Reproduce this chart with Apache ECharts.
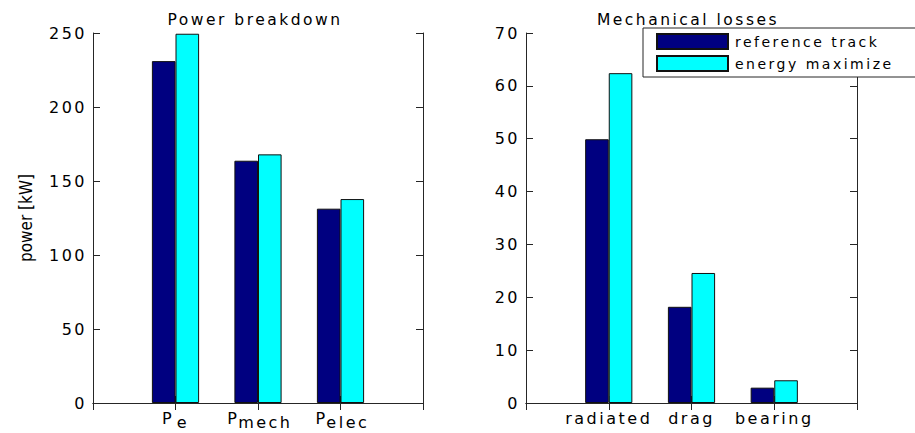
<!DOCTYPE html>
<html>
<head>
<meta charset="utf-8">
<script src="https://cdn.jsdelivr.net/npm/echarts@6/dist/echarts.min.js"></script>
<style>
  html, body { margin: 0; padding: 0; background: #fff; }
  #chart { width: 915px; height: 433px; }
  #chart text { letter-spacing: 2.5px; }
  #chart text.plain { letter-spacing: 0px; }
</style>
</head>
<body>
<div id="chart"></div>
<script>
// Power breakdown (kW)
const powerCategories = ['Pe', 'Pmech', 'Pelec'];
const powerReference = [231, 163.7, 131.3];
const powerEnergyMax = [249.5, 168, 137.8];
const powerTicks = [0, 50, 100, 150, 200, 250];

// Mechanical losses (kW)
const lossCategories = ['radiated', 'drag', 'bearing'];
const lossReference = [49.9, 18.2, 2.9];
const lossEnergyMax = [62.4, 24.6, 4.3];
const lossTicks = [0, 10, 20, 30, 40, 50, 60, 70];

const seriesNames = ['reference track', 'energy maximize'];
const seriesColors = ['#000080', '#00ffff'];
const yAxisName = 'power [kW]';

const FONT = 'DejaVu Sans';
const NARROW = '"Liberation Sans Narrow", "DejaVu Sans Condensed", "DejaVu Sans"';
const LINE = '#262626';

// x runs from 0 to 4 with the three groups at 1, 2, 3
const padCats = cats => ['start', ...cats, 'end'];
const padVals = vals => ['-', ...vals, '-'];

function catAxis(gridIndex, cats, position, subscript) {
  return {
    type: 'category', gridIndex, position,
    data: padCats(cats),
    boundaryGap: false,
    axisLine: { show: true, lineStyle: { color: LINE, width: 1 } },
    axisTick: { show: true, inside: true, length: 7, lineStyle: { color: LINE } },
    splitLine: { show: false },
    axisLabel: position === 'top' ? { show: false } : {
      show: true, margin: 7, color: '#000', fontFamily: FONT, fontSize: 16,
      interval: 0,
      formatter: (v, i) => {
        if (i === 0 || i === cats.length + 1) return '';
        return subscript ? '{p|' + v[0] + '}{s|' + v.slice(1) + '}' : v;
      },
      rich: {
        p: { fontFamily: FONT, fontSize: 16, color: '#000', padding: [0, 0, 4, 0] },
        s: { fontFamily: FONT, fontSize: 16, color: '#000', padding: [4, 0, 0, 5] }
      }
    }
  };
}

function valAxis(gridIndex, ticks, position, name) {
  const ax = {
    type: 'value', gridIndex, position,
    min: ticks[0], max: ticks[ticks.length - 1], interval: ticks[1] - ticks[0],
    axisLine: { show: true, lineStyle: { color: LINE, width: 1 } },
    axisTick: { show: true, inside: true, length: 7, lineStyle: { color: LINE } },
    splitLine: { show: false },
    axisLabel: position === 'right' ? { show: false } : {
      show: true, margin: 6, color: '#000', fontFamily: FONT, fontSize: 16
    }
  };
  if (name) {
    Object.assign(ax, {
      name, nameLocation: 'middle', nameRotate: 90, nameGap: 59,
      nameTextStyle: { color: '#000', fontFamily: NARROW, fontSize: 17 }
    });
  }
  return ax;
}

function barSeries(k, xIdx, yIdx, vals) {
  return {
    type: 'bar', name: seriesNames[k], xAxisIndex: xIdx, yAxisIndex: yIdx,
    data: padVals(vals), barWidth: 23.6, barGap: '0%',
    itemStyle: { color: seriesColors[k], borderColor: '#111', borderWidth: 1, borderRadius: 0 },
    emphasis: { disabled: true }
  };
}

// the rotated axis name keeps its natural letter spacing
function plainAxisName() {
  document.querySelectorAll('#chart text').forEach(t => {
    if (t.textContent.trim() === yAxisName) t.classList.add('plain');
  });
}

const chart = echarts.init(document.getElementById('chart'), null, { renderer: 'svg' });
chart.on('finished', plainAxisName);
chart.setOption({
  backgroundColor: '#fff',
  animation: false,
  textStyle: { fontFamily: FONT },
  title: [
    { text: 'Power breakdown', left: 250, top: 7, textAlign: 'center',
      textStyle: { fontFamily: FONT, fontSize: 15.5, fontWeight: 'normal', color: '#000' } },
    { text: 'Mechanical losses', left: 683, top: 7, textAlign: 'center',
      textStyle: { fontFamily: FONT, fontSize: 15.5, fontWeight: 'normal', color: '#000' } }
  ],
  legend: {
    data: seriesNames, orient: 'vertical', left: 643, top: 28,
    icon: 'rect',
    itemWidth: 71, itemHeight: 15, itemGap: 5,
    padding: [5, 80, 5, 13],
    backgroundColor: '#fff', borderColor: LINE, borderWidth: 1,
    selectedMode: false, z: 10,
    textStyle: { fontFamily: FONT, fontSize: 14, color: '#000', padding: [0, 0, 0, 2] }
  },
  grid: [
    { left: 93, top: 33, width: 330, height: 370 },
    { left: 526, top: 33, width: 331, height: 370 }
  ],
  xAxis: [
    catAxis(0, powerCategories, 'bottom', true),
    catAxis(0, powerCategories, 'top', true),
    catAxis(1, lossCategories, 'bottom', false),
    catAxis(1, lossCategories, 'top', false)
  ],
  yAxis: [
    valAxis(0, powerTicks, 'left', yAxisName),
    valAxis(0, powerTicks, 'right'),
    valAxis(1, lossTicks, 'left'),
    valAxis(1, lossTicks, 'right')
  ],
  series: [
    barSeries(0, 0, 0, powerReference),
    barSeries(1, 0, 0, powerEnergyMax),
    barSeries(0, 2, 2, lossReference),
    barSeries(1, 2, 2, lossEnergyMax)
  ]
});
chart.getZr().refreshImmediately();
plainAxisName();
</script>
</body>
</html>
